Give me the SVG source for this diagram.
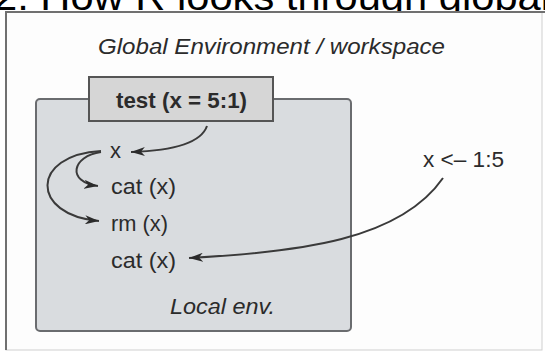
<svg xmlns="http://www.w3.org/2000/svg" width="545" height="353" viewBox="0 0 545 353">
<style>
.t{font-family:"Liberation Sans",Arial,sans-serif;fill:#2b2b2b;font-size:22px}
.i{font-style:italic}
.b{font-weight:bold}
.c{fill:none;stroke:#3a3a3a;stroke-width:2}
</style>
<defs>
<marker id="ah" markerUnits="userSpaceOnUse" markerWidth="15" markerHeight="9" refX="14" refY="4.5" orient="auto">
<path d="M0,0 L14,4.5 L0,9 L4,4.5 z" fill="#2b2b2b"/>
</marker>
</defs>
<rect x="0" y="0" width="545" height="353" fill="#fff"/>
<text x="-6" y="10" font-family="Liberation Sans,Arial,sans-serif" font-size="38" fill="#000" textLength="556" lengthAdjust="spacingAndGlyphs">2. How R looks through global</text>
<g id="frame">
<rect x="6" y="12" width="536" height="338" fill="#fdfdfd" stroke="#cfcfcf" stroke-width="1"/>
<path d="M6,350 L6,12 L545,12" fill="none" stroke="#707070" stroke-width="2"/>
</g>
<text class="t i" x="98" y="54" font-size="24" textLength="347" lengthAdjust="spacingAndGlyphs">Global Environment / workspace</text>
<g id="local-env">
<rect x="36" y="99" width="315" height="232" rx="4" fill="#d9dcdf" stroke="#6a6c6f" stroke-width="2"/>
<text class="t i" x="170" y="314" font-size="23" textLength="105" lengthAdjust="spacingAndGlyphs">Local env.</text>
</g>
<g id="test">
<rect x="89" y="77" width="184" height="44" fill="#d6d6d6" stroke="#555" stroke-width="2"/>
<text class="t b" x="116" y="108" font-size="23" textLength="131" lengthAdjust="spacingAndGlyphs">test (x = 5:1)</text>
</g>
<g id="x"><text class="t" x="110" y="158">x</text></g>
<g id="cat1"><text class="t" x="111" y="194" textLength="65" lengthAdjust="spacingAndGlyphs">cat (x)</text></g>
<g id="rm"><text class="t" x="111" y="231" textLength="57" lengthAdjust="spacingAndGlyphs">rm (x)</text></g>
<g id="cat2"><text class="t" x="111" y="268" textLength="65" lengthAdjust="spacingAndGlyphs">cat (x)</text></g>
<g id="assign"><text class="t" x="423" y="167" font-size="20" textLength="81" lengthAdjust="spacingAndGlyphs">x &lt;– 1:5</text></g>
<g id="connectors">
<path class="c" d="M207,126 C200,146 165,151 131,152" marker-end="url(#ah)"/>
<path class="c" d="M101,152 C72,156 66,182 98,186" marker-end="url(#ah)"/>
<path class="c" d="M101,151 C30,155 30,215 99,221" marker-end="url(#ah)"/>
<path class="c" d="M443,178 C400,240 300,252 189,258" marker-end="url(#ah)"/>
</g>
</svg>
